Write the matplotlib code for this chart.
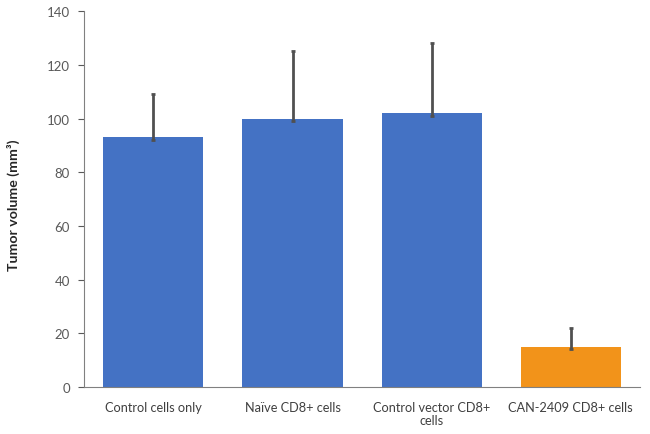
import matplotlib
matplotlib.use("Agg")
import matplotlib.pyplot as plt

categories = ["Control cells only", "Naïve CD8+ cells", "Control vector CD8+\ncells", "CAN-2409 CD8+ cells"]
values = [93, 100, 102, 15]
errors = [16, 25, 26, 7]
colors = ["#4472C4", "#4472C4", "#4472C4", "#F2931A"]
yticks = [0, 20, 40, 60, 80, 100, 120, 140]

plt.rcParams['font.family'] = ['Lato', 'DejaVu Sans']
fig = plt.figure(figsize=(6.5, 4.35), dpi=100)
ax = fig.add_axes([0.129, 0.108, 0.856, 0.864])

x = range(len(categories))
ax.bar(x, values, width=0.72, color=colors, zorder=2)
ax.errorbar(x, values, yerr=[[1]*len(errors), errors], fmt='none', ecolor='#505050',
            elinewidth=2, capsize=1.5, capthick=2, zorder=3)

ax.set_xlim(-0.5, len(categories) - 0.5)
ax.set_ylim(0, 140)
ax.set_yticks(yticks)
ax.set_xticks(list(x))
ax.set_xticklabels(categories, fontsize=9.2, color='#404040', linespacing=1.1)
ax.tick_params(axis='x', length=0, pad=10)
ax.tick_params(axis='y', labelsize=9.5, colors='#595959', length=4, width=0.8, direction='out', pad=6)
for lbl in ax.get_yticklabels():
    lbl.set_color('#595959')
ax.spines['top'].set_visible(False)
ax.spines['right'].set_visible(False)
ax.spines['left'].set_color('#808080')
ax.spines['bottom'].set_color('#808080')
ax.set_ylabel("Tumor volume (mm³)", fontsize=10.2, fontweight='bold', color='#262626')
ax.yaxis.set_label_coords(-0.115, 0.487)

fig.savefig("out.png", dpi=100)
